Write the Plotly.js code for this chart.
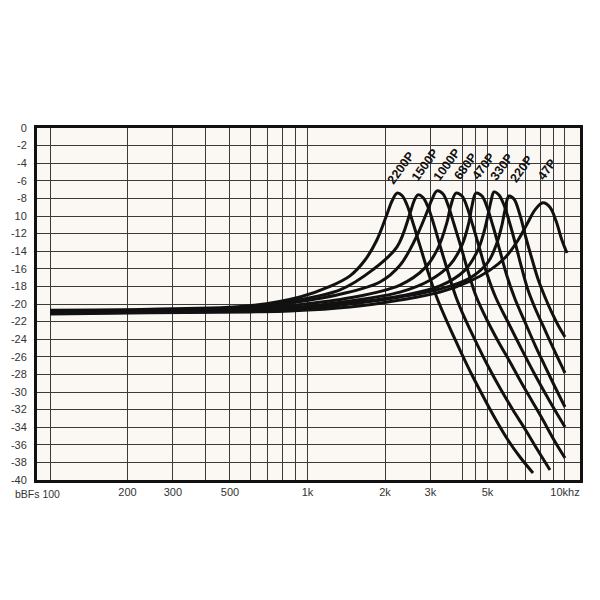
<!DOCTYPE html>
<html>
<head>
<meta charset="utf-8">
<script src="https://cdn.plot.ly/plotly-3.0.1.min.js"></script>
<style>html,body{margin:0;padding:0;background:#fff;}#chart{width:600px;height:600px;}</style>
</head>
<body>
<div id="chart"></div>
<script>
// ---- data (frequency in Hz, level in dB) ----
const curveNames = ["2200P", "1500P", "1000P", "680P", "470P", "330P", "220P", "47P"];

const freq2200 = [100, 245, 598, 935, 1223, 1462, 1673, 1862, 2036, 2129, 2227, 2328, 2435, 2569, 2735, 2938, 3184, 3513, 3910, 4354, 4847, 5395, 6004, 6686, 7512];
const db2200   = [-20.7, -20.6, -20.2, -19.2, -18.0, -16.8, -15.0, -12.7, -9.8, -8.3, -7.4, -7.67, -8.75, -10.8, -13.4, -16.36, -19.32, -22.27, -25.23, -28.07, -30.68, -33.18, -35.45, -37.39, -39.2];

const freq1500 = [100, 245, 598, 855, 1337, 1796, 2227, 2501, 2592, 2686, 2809, 2938, 3099, 3299, 3513, 3773, 4126, 4553, 5023, 5592, 6281, 6993, 7786, 8744];
const db1500   = [-20.8, -20.7, -20.35, -19.7, -18.4, -16.1, -13.5, -9.7, -8.3, -7.6, -7.9, -8.98, -11.02, -13.75, -16.36, -19.2, -21.93, -24.55, -27.05, -29.55, -32.05, -34.2, -36.48, -38.86];

const freq1000 = [100, 245, 598, 855, 1337, 1912, 2287, 2615, 2911, 3044, 3184, 3360, 3513, 3706, 3946, 4200, 4512, 4979, 5492, 6114, 6747, 7444, 8210, 9063, 10000];
const db1000   = [-20.8, -20.75, -20.45, -19.9, -18.9, -17.5, -15.6, -12.7, -9.55, -8.1, -7.15, -7.5, -8.75, -10.91, -13.52, -16.25, -19.09, -21.82, -24.2, -26.59, -28.86, -31.02, -33.18, -35.45, -37.5];

const freq680 = [100, 245, 598, 855, 1462, 2287, 2860, 3212, 3482, 3608, 3773, 3981, 4164, 4392, 4676, 4979, 5395, 6004, 6747, 7580, 8667, 10000];
const db680   = [-20.9, -20.8, -20.6, -20.2, -19.3, -17.85, -15.9, -13.65, -10.7, -8.75, -7.4, -7.73, -8.98, -11.14, -13.86, -16.59, -19.32, -22.05, -25.0, -27.84, -30.91, -33.98];

const freq470 = [100, 245, 598, 855, 1462, 2287, 2990, 3576, 3981, 4238, 4354, 4512, 4761, 4979, 5252, 5592, 5952, 6396, 6993, 7648, 8359, 9145, 10000];
const db470   = [-20.95, -20.85, -20.7, -20.45, -19.65, -18.65, -17.3, -15.55, -13.3, -10.7, -8.85, -7.4, -7.73, -8.98, -11.14, -13.98, -16.82, -19.43, -22.05, -24.66, -27.05, -29.43, -31.7];

const freq330 = [100, 245, 598, 855, 1462, 2287, 3270, 4090, 4592, 4847, 5023, 5159, 5300, 5541, 5795, 6114, 6453, 6808, 7184, 7648, 8359, 9145, 10000];
const db330   = [-21.0, -20.9, -20.75, -20.6, -19.9, -19.1, -17.95, -16.15, -13.85, -11.82, -9.89, -8.3, -7.27, -7.61, -8.75, -10.91, -13.41, -16.02, -18.41, -20.45, -22.95, -25.45, -27.84];

const freq220 = [100, 245, 598, 855, 1462, 2287, 3270, 4277, 5023, 5441, 5692, 5847, 6059, 6337, 6686, 7055, 7444, 7855, 8359, 8902, 9393, 10000];
const db220   = [-21.05, -20.95, -20.8, -20.7, -20.0, -19.2, -18.3, -17.05, -15.25, -13.07, -11.02, -9.32, -7.73, -8.07, -9.89, -12.5, -14.89, -17.16, -19.2, -21.02, -22.39, -23.75];

const freq47 = [100, 245, 598, 855, 1462, 2287, 3270, 4277, 5113, 5847, 6570, 7184, 7648, 8210, 8744, 9226, 9734, 10180];
const db47   = [-21.15, -21.0, -20.9, -20.8, -20.35, -19.55, -18.65, -17.4, -16.15, -14.75, -12.75, -10.7, -9.3, -8.5, -9.0, -10.55, -12.75, -14.2];

// label anchor points (Hz, dB)
const labelFreq = [2307, 2860, 3472, 4090, 4804, 5678, 6788, 8490];
const labelDb   = [-4.55, -4.2, -4.2, -4.4, -4.4, -4.4, -4.66, -4.77];

// axis ticks
const xGridVals  = [100, 200, 300, 400, 500, 600, 700, 800, 900, 1000, 2000, 3000, 4000, 4500, 5000, 6000, 7000, 8000, 9000, 10000];
const xGridText  = ["", "200", "300", "", "500", "", "", "", "", "1k", "2k", "3k", "", "", "5k", "", "", "", "", "10khz"];
const yTickVals  = [0, -2, -4, -6, -8, -10, -12, -14, -16, -18, -20, -22, -24, -26, -28, -30, -32, -34, -36, -38, -40];
const yTickText  = ["0", "-2", "-4", "-6", "-8", "10", "-12", "-14", "-16", "-18", "-20", "-22", "-24", "-26", "-28", "-30", "-32", "-34", "-36", "-38", "-40"];

const series = [
  [freq2200, db2200], [freq1500, db1500], [freq1000, db1000], [freq680, db680],
  [freq470, db470], [freq330, db330], [freq220, db220], [freq47, db47]
];

const traces = series.map((s, i) => ({
  x: s[0], y: s[1], type: "scatter", mode: "lines", name: curveNames[i],
  line: {color: "#111111", width: 3, shape: "spline", smoothing: 1},
  hoverinfo: "skip"
}));

const annotations = curveNames.map((n, i) => ({
  x: Math.log10(labelFreq[i]), y: labelDb[i], xref: "x", yref: "y",
  text: n, showarrow: false, textangle: -54,
  font: {family: "Liberation Sans, Arial, sans-serif", size: 12.5, color: "#111", weight: "bold"}
}));
annotations.push({
  x: Math.log10(100), y: 0, xref: "x", yref: "paper", xanchor: "center", yanchor: "top",
  xshift: -13, yshift: -6, text: "bBFs 100", showarrow: false,
  font: {family: "Liberation Sans, Arial, sans-serif", size: 10.5, color: "#333"}
});

const tickFont = {family: "Liberation Sans, Arial, sans-serif", size: 11, color: "#333"};

const layout = {
  width: 600, height: 600,
  margin: {l: 37, r: 20, t: 128, b: 120, pad: 0},
  paper_bgcolor: "#ffffff",
  plot_bgcolor: "#fbf8f3",
  showlegend: false,
  xaxis: {
    type: "log", range: [1.9495, 4.0583], autorange: false,
    tickmode: "array", tickvals: xGridVals, ticktext: xGridText,
    showgrid: true, gridcolor: "#3a3a3a", gridwidth: 1,
    ticks: "", tickfont: tickFont,
    showline: true, mirror: true, linecolor: "#111", linewidth: 3,
    zeroline: false, fixedrange: true
  },
  yaxis: {
    range: [-40, 0], autorange: false,
    tickmode: "array", tickvals: yTickVals, ticktext: yTickText,
    showgrid: true, gridcolor: "#3a3a3a", gridwidth: 1,
    ticks: "", ticklabelstandoff: 5, tickfont: tickFont,
    showline: true, mirror: true, linecolor: "#111", linewidth: 3,
    zeroline: false, fixedrange: true
  },
  annotations: annotations
};

Plotly.newPlot("chart", traces, layout, {staticPlot: true, displayModeBar: false});
</script>
</body>
</html>
